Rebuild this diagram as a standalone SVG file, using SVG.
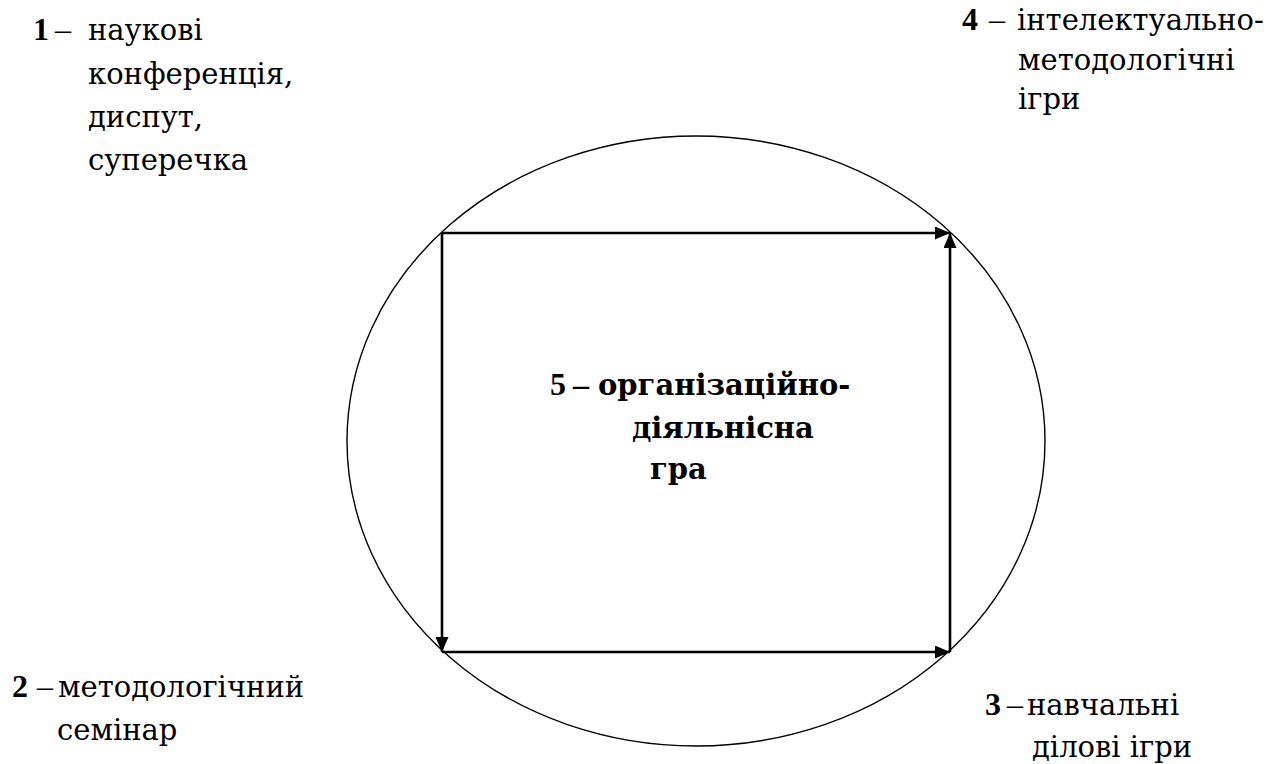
<svg xmlns="http://www.w3.org/2000/svg" width="1288" height="764" viewBox="0 0 1288 764">
<style>
text{font-family:"Liberation Serif","DejaVu Serif",serif;font-size:32px;fill:#000}
text.c{font-family:"DejaVu Serif","Liberation Serif",serif;font-size:29px}
.b{font-weight:bold}
.edge{stroke:#000;stroke-width:2.6;fill:none}
</style>
<defs>
<marker id="ah" viewBox="0 0 15 13" refX="15" refY="6.5" markerWidth="15" markerHeight="13" markerUnits="userSpaceOnUse" orient="auto">
<path d="M0,0 L15,6.5 L0,13 Z" fill="#000"/>
</marker>
</defs>
<rect width="1288" height="764" fill="#fff"/>
<g id="circle">
<ellipse cx="696" cy="441" rx="349" ry="305" fill="none" stroke="#000" stroke-width="1.4"/>
</g>
<g id="connectors">
<line class="edge" x1="442" y1="233" x2="950" y2="233" marker-end="url(#ah)"/>
<line class="edge" x1="950" y1="652" x2="950" y2="233" marker-end="url(#ah)"/>
<line class="edge" x1="442" y1="233" x2="442" y2="652" marker-end="url(#ah)"/>
<line class="edge" x1="442" y1="652" x2="950" y2="652" marker-end="url(#ah)"/>
</g>
<g id="node1">
<text class="b" x="33" y="40">1</text>
<text x="55" y="40">–</text>
<text class="c" x="88" y="40">наукові</text>
<text class="c" x="88" y="84">конференція,</text>
<text class="c" x="88" y="127">диспут,</text>
<text class="c" x="88" y="170">суперечка</text>
</g>
<g id="node4">
<text class="b" x="962" y="30">4</text>
<text x="989" y="30">–</text>
<text class="c" x="1017" y="30">інтелектуально-</text>
<text class="c" x="1018" y="70">методологічні</text>
<text class="c" x="1018" y="109">ігри</text>
</g>
<g id="node5">
<text class="b" x="550" y="395">5</text>
<text class="b" x="573" y="395">–</text>
<text class="b c" x="598" y="395">організаційно-</text>
<text class="b c" x="632" y="438">діяльнісна</text>
<text class="b c" x="650" y="479">гра</text>
</g>
<g id="node2">
<text class="b" x="12" y="697">2</text>
<text x="37" y="697">–</text>
<text class="c" x="58" y="697">методологічний</text>
<text class="c" x="57" y="740">семінар</text>
</g>
<g id="node3">
<text class="b" x="985" y="715">3</text>
<text x="1007" y="715">–</text>
<text class="c" x="1027" y="715">навчальні</text>
<text class="c" x="1032" y="757">ділові ігри</text>
</g>
</svg>
